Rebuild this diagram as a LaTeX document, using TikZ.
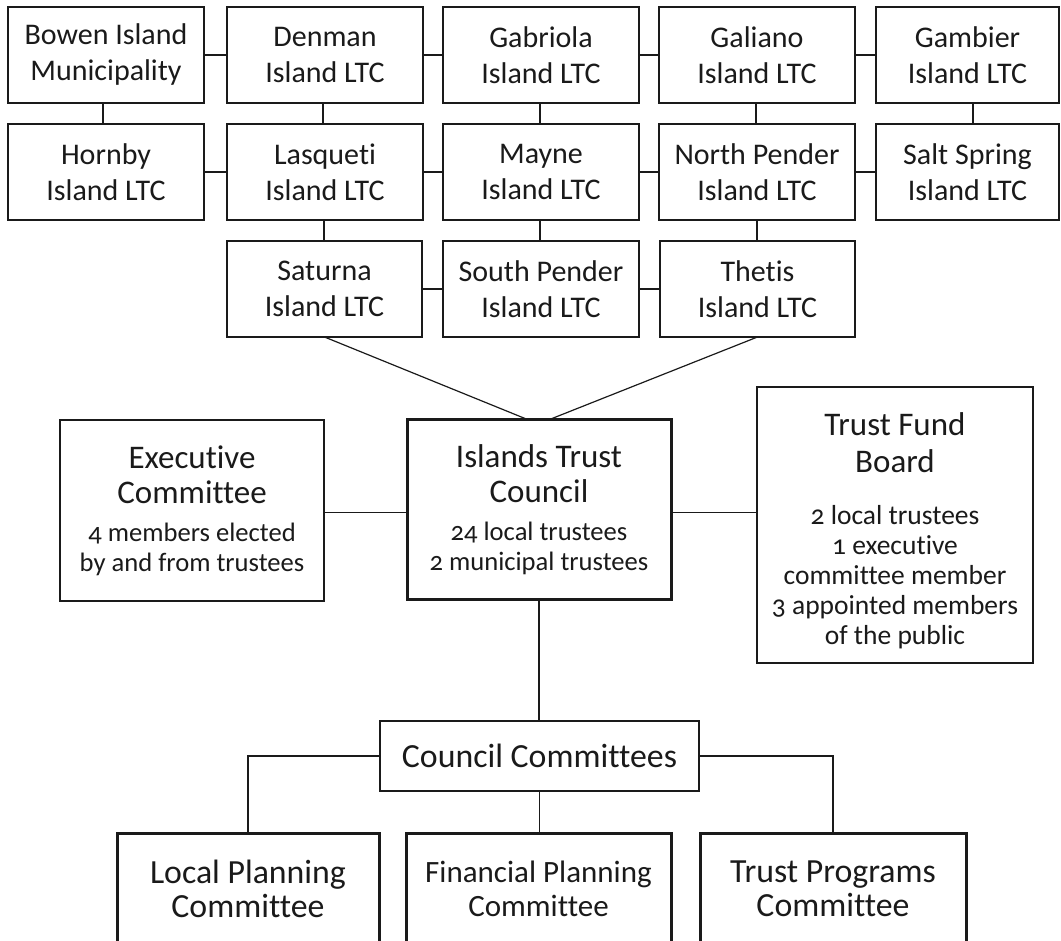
\documentclass[tikz,border=0pt]{standalone}
\usepackage{fontspec}
\setmainfont{Carlito}[Numbers=OldStyle, Ligatures=NoCommon]
\usetikzlibrary{calc}
\newcommand\topf{\fontsize{30}{36}\selectfont}
\newcommand\ttlf{\fontsize{33}{35}\selectfont}
\newcommand\tfbttl{\fontsize{33}{37}\selectfont}
\newcommand\subf{\fontsize{26.6}{30}\selectfont}
\newcommand\tsubf{\fontsize{27.5}{30}\selectfont}
\newcommand\botf{\fontsize{33.8}{34}\selectfont}
\newcommand\fpf{\fontsize{31}{34}\selectfont}
\definecolor{ink}{HTML}{1A1A1A}
\tikzset{
  box/.style n args={2}{draw=ink, rectangle, line width=1.2pt, inner sep=0pt, outer sep=0pt,
    minimum width=#1, minimum height=#2, align=center, font=\topf, text=ink},
  thickbox/.style={line width=3pt},
  conn/.style={draw=ink, line width=1.2pt},
}
\begin{document}
\begin{tikzpicture}[x=1pt,y=-1pt]
\useasboundingbox (0,0) rectangle (1061,941);
% row 1
\node[box={196}{96}] (bowen)    at (106,55)   {Bowen Island\\Municipality};
\node[box={196}{96}] (denman)   at (325,55)   {Denman\\Island LTC};
\node[box={196}{96}] (gabriola) at (541,55)   {Gabriola\\Island LTC};
\node[box={196}{96}] (galiano)  at (757,55)   {Galiano\\Island LTC};
\node[box={183}{96}] (gambier)  at (967.5,55) {Gambier\\Island LTC};
% row 2
\node[box={196}{96}] (hornby)   at (106,172)  {Hornby\\Island LTC};
\node[box={196}{96}] (lasqueti) at (325,172)  {Lasqueti\\Island LTC};
\node[box={196}{96}] (mayne)    at (541,172)  {Mayne\\Island LTC};
\node[box={196}{96}] (npender)  at (757,172)  {North Pender\\Island LTC};
\node[box={183}{96}] (saltspr)  at (967.5,172){Salt Spring\\Island LTC};
% row 3
\node[box={195}{96}] (saturna)  at (324.5,289){Saturna\\Island LTC};
\node[box={196}{96}] (spender)  at (541,289)  {South Pender\\Island LTC};
\node[box={195}{96}] (thetis)   at (757.5,289){Thetis\\Island LTC};
% middle
\node[box={264}{181}, font=\ttlf] (exec) at (192,510.5)
  {Executive\\Committee\\[3pt]{\subf 4 members elected}\\[-5pt]{\subf by and from trustees}};
\node[box={264}{180}, thickbox, font=\ttlf] (council) at (539,509.3)
  {Islands Trust\\Council\\[3pt]{\subf 24 local trustees}\\[-5pt]{\subf 2 municipal trustees}};
\node[box={276}{276}, font=\tfbttl] (tfb) at (895,525)
  {\rule{0pt}{34pt}Trust Fund\\Board\\[15pt]{\tsubf 2 local trustees}\\[-7pt]{\tsubf 1 executive}\\[-7pt]{\tsubf committee member}\\[-7pt]{\tsubf 3 appointed members}\\[-7pt]{\tsubf of the public}};
% committees
\node[box={319}{70}, font=\fontsize{33.8}{36}\selectfont] (cc) at (539.5,756) {Council Committees};
\node[box={262}{112}, thickbox, font=\botf] (lp) at (248,889)   {Local Planning\\Committee};
\node[box={265}{112}, thickbox, font=\fpf] (fp) at (538.5,889) {Financial Planning\\Committee};
\node[box={266}{112}, thickbox, font=\botf] (tp) at (833,889)   {Trust Programs\\Committee};
% connectors row 1
\draw[conn] (bowen.east) -- (denman.west);
\draw[conn] (denman.east) -- (gabriola.west);
\draw[conn] (gabriola.east) -- (galiano.west);
\draw[conn] (galiano.east) -- (gambier.west);
% row 2
\draw[conn] (hornby.east) -- (lasqueti.west);
\draw[conn] (lasqueti.east) -- (mayne.west);
\draw[conn] (mayne.east) -- (npender.west);
\draw[conn] (npender.east) -- (saltspr.west);
% row 3
\draw[conn] (saturna.east) -- (spender.west);
\draw[conn] (spender.east) -- (thetis.west);
% verticals
\draw[conn] ([xshift=-3pt]bowen.south) -- ([xshift=-3pt]bowen.south |- hornby.north);
\draw[conn] ([xshift=-2pt]denman.south) -- ([xshift=-2pt]denman.south |- lasqueti.north);
\draw[conn] ([xshift=-1pt]gabriola.south) -- ([xshift=-1pt]gabriola.south |- mayne.north);
\draw[conn] ([xshift=-1pt]galiano.south) -- ([xshift=-1pt]galiano.south |- npender.north);
\draw[conn] ([xshift=5.5pt]gambier.south) -- ([xshift=5.5pt]gambier.south |- saltspr.north);
\draw[conn] ([xshift=-1pt]lasqueti.south) -- ([xshift=-1pt]lasqueti.south |- saturna.north);
\draw[conn] ([xshift=-1pt]mayne.south) -- ([xshift=-1pt]mayne.south |- spender.north);
\draw[conn] (npender.south) -- (npender.south |- thetis.north);
% to council
\draw[conn] (saturna.south) -- ([xshift=-12pt]council.north);
\draw[conn] (thetis.south) -- ([xshift=11pt]council.north);
\draw[conn] ([yshift=-3.5pt]council.west) -- ([yshift=-3.5pt]council.west -| exec.east);
\draw[conn] ([yshift=-3.5pt]council.east) -- ([yshift=-3.5pt]council.east -| tfb.west);
\draw[conn] (council.south) -- (council.south |- cc.north);
% committees
\draw[conn] (cc.west) -| (lp.north);
\draw[conn] (cc.east) -| (tp.north);
\draw[conn] (cc.south) -- (cc.south |- fp.north);
\end{tikzpicture}
\end{document}
